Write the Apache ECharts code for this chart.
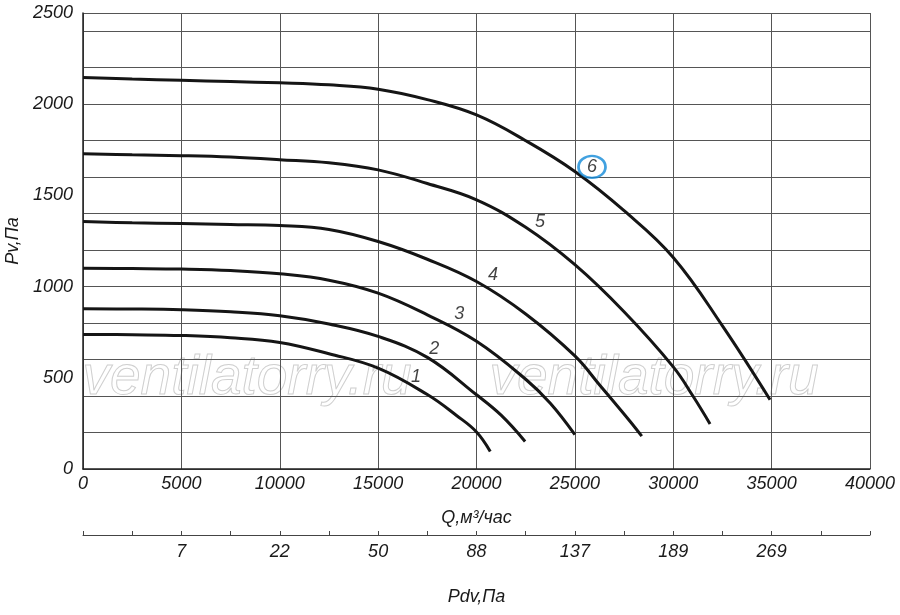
<!doctype html>
<html>
<head>
<meta charset="UTF-8">
<title>Pv - Q</title>
<script src="https://cdn.jsdelivr.net/npm/echarts@6/dist/echarts.min.js"></script>
<style>
  html, body { margin: 0; padding: 0; background: #fff; }
  #chart { width: 900px; height: 615px; }
</style>
</head>
<body>
<div id="chart"></div>
<script type="text/javascript">
// кривые Pv(Q), точки [Q, Pv]
var curve1 = [[0,738],[2500,736],[5000,732],[7500,720],[10000,694],[12500,632],[15000,553],[17500,408],[19000,292],[20000,203],[20700,96]];
var curve2 = [[0,878],[2500,877],[5000,873],[7500,862],[10000,840],[12500,795],[15000,727],[17500,612],[20000,407],[21250,295],[22470,151]];
var curve3 = [[0,1101],[2500,1099],[5000,1096],[7500,1088],[10000,1070],[12500,1035],[15000,964],[17500,845],[20000,700],[22500,492],[23750,360],[25000,188]];
var curve4 = [[0,1357],[2500,1350],[5000,1346],[7500,1341],[10000,1335],[12500,1313],[15000,1247],[17500,1150],[20000,1028],[22500,850],[25000,620],[26300,455],[27800,262],[28400,180]];
var curve5 = [[0,1728],[2500,1723],[5000,1718],[7500,1710],[10000,1696],[12500,1679],[15000,1640],[17500,1565],[20000,1476],[22500,1325],[25000,1120],[27500,862],[30000,560],[31000,400],[31870,247]];
var curve6 = [[0,2146],[2500,2138],[5000,2131],[7500,2124],[10000,2117],[12500,2106],[15000,2082],[17500,2025],[20000,1941],[22500,1800],[25000,1631],[27500,1416],[30000,1160],[32500,785],[34920,380]];

// номера кривых и их положение
var curveNames = ['1', '2', '3', '4', '5', '6'];
var labelQ = [16930, 17850, 19120, 20840, 23230, 25870];
var labelP = [506, 659, 851, 1065, 1355, 1656];

// вторая шкала: динамическое давление под Q = 0, 5000 ... 40000
var pdvTicks = ['', '7', '22', '50', '88', '137', '189', '269', ''];

var font = 'Liberation Sans, Arial, sans-serif';
var textStyle = { fontFamily: font, fontStyle: 'italic', fontSize: 18, color: '#1a1a1a' };

var curves = [curve1, curve2, curve3, curve4, curve5, curve6];
var series = [];
for (var i = 0; i < curves.length; i++) {
  series.push({
    type: 'line',
    data: curves[i],
    smooth: 0.4,
    showSymbol: false,
    silent: true,
    lineStyle: { color: '#151515', width: 3 }
  });
}

var labelData = [];
for (var j = 0; j < curveNames.length; j++) {
  labelData.push({
    value: [labelQ[j], labelP[j]],
    name: curveNames[j],
    symbolSize: j === 5 ? [27, 22] : 0,
    itemStyle: j === 5 ? { color: 'rgba(0,0,0,0)', borderColor: '#118ad8', borderWidth: 2.5 } : { color: 'rgba(0,0,0,0)' }
  });
}
series.push({
  type: 'scatter',
  data: labelData,
  silent: true,
  z: 5,
  label: {
    show: true,
    position: 'inside',
    formatter: function (p) { return p.name; },
    fontFamily: font,
    fontStyle: 'italic',
    fontSize: 18,
    color: '#111'
  }
});

function plain(v) { return String(v); }

var chart = echarts.init(document.getElementById('chart'));
chart.setOption({
  animation: false,
  backgroundColor: '#fff',
  grid: { left: 83, right: 30, top: 13, bottom: 146, containLabel: false, outerBoundsMode: 'none' },
  graphic: [
    { type: 'text', left: 82, top: 351, z: 0, silent: true,
      style: { text: 'ventilatorry.ru', font: 'italic 55px ' + font, fill: 'rgba(0,0,0,0)', stroke: '#cfcfcf', lineWidth: 1 } },
    { type: 'text', left: 489, top: 351, z: 0, silent: true,
      style: { text: 'ventilatorry.ru', font: 'italic 55px ' + font, fill: 'rgba(0,0,0,0)', stroke: '#cfcfcf', lineWidth: 1 } }
  ],
  xAxis: [{
    type: 'value',
    min: 0, max: 40000, interval: 5000,
    name: 'Q,м³/час',
    nameLocation: 'middle',
    nameGap: 40,
    nameTextStyle: textStyle,
    axisLine: { lineStyle: { color: '#222', width: 1.5 } },
    axisTick: { show: false },
    axisLabel: { fontFamily: font, fontStyle: 'italic', fontSize: 18, color: '#1a1a1a', margin: 6, formatter: plain },
    splitLine: { lineStyle: { color: '#555', width: 1 } }
  }, {
    type: 'value',
    position: 'bottom',
    offset: 66,
    min: 0, max: 40000, interval: 2500,
    name: 'Pdv,Па',
    nameLocation: 'middle',
    nameGap: 53,
    nameTextStyle: textStyle,
    axisLine: { show: true, onZero: false, lineStyle: { color: '#444', width: 1 } },
    axisTick: { show: true, inside: true, length: 4, lineStyle: { color: '#444' } },
    axisLabel: {
      fontFamily: font, fontStyle: 'italic', fontSize: 18, color: '#1a1a1a', margin: 8,
      formatter: function (v) { return v % 5000 === 0 ? pdvTicks[v / 5000] : ''; }
    },
    splitLine: { show: false }
  }],
  yAxis: [{
    type: 'value',
    min: 0, max: 2500, interval: 500,
    name: 'Pv,Па',
    nameLocation: 'middle',
    nameGap: 57,
    nameTextStyle: textStyle,
    axisLine: { show: true, lineStyle: { color: '#222', width: 1.5 } },
    axisTick: { show: false },
    axisLabel: { fontFamily: font, fontStyle: 'italic', fontSize: 18, color: '#1a1a1a', margin: 10, formatter: plain },
    splitLine: { show: false }
  }, {
    type: 'value',
    position: 'left',
    min: 0, max: 2500, interval: 200,
    axisLine: { show: false },
    axisTick: { show: false },
    axisLabel: { show: false },
    splitLine: { lineStyle: { color: '#555', width: 1 } }
  }],
  series: series
});
</script>
</body>
</html>
